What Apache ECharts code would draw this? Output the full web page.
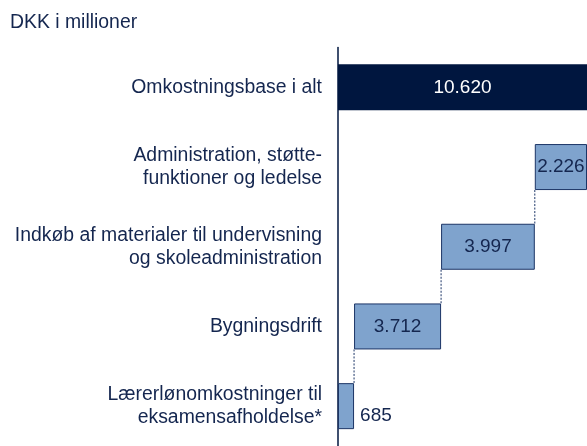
<!DOCTYPE html>
<html>
<head>
<meta charset="utf-8">
<script src="https://cdn.jsdelivr.net/npm/echarts@6/dist/echarts.min.js"></script>
<style>
  html, body { margin: 0; padding: 0; background: #fff; }
  #chart { width: 587px; height: 446px; }
</style>
</head>
<body>
<div id="chart"></div>
<script>
// categories top to bottom
const categories = [
  'Omkostningsbase i alt',
  'Administration, støtte-\nfunktioner og ledelse',
  'Indkøb af materialer til undervisning\nog skoleadministration',
  'Bygningsdrift',
  'Lærerlønomkostninger til\neksamensafholdelse*'
]
const totalValue = 10620
// steps, top to bottom (bottom one starts at 0)
const stepValues = [2226, 3997, 3712, 685]

const navy = '#00163f'
const textColor = '#14264f'

// base offsets for the waterfall, stacked from the bottom up
const bases = []
let running = 0
for (let i = stepValues.length - 1; i >= 0; i--) {
  bases[i] = running
  running += stepValues[i]
}
const baseData = [0].concat(bases)
const totalData = [totalValue, '-', '-', '-', '-']
const stepData = ['-'].concat(stepValues)

// dashed connectors: [x value, upper row, lower row]
const connectors = []
for (let i = 0; i < stepValues.length - 1; i++) {
  connectors.push([bases[i], i + 1, i + 2])
}

const fmt = v => v.toLocaleString('de-DE')
const BAR_W = 46

const chart = echarts.init(document.getElementById('chart'))
chart.setOption({
  animation: false,
  textStyle: { fontFamily: 'Liberation Sans, Arial, sans-serif' },
  graphic: [{
    type: 'text',
    left: 10,
    top: 13,
    style: { text: 'DKK i millioner', fontSize: 19.4, fill: textColor, fontFamily: 'Liberation Sans, Arial, sans-serif' }
  }],
  grid: { left: 338, width: 250, top: 47.5, height: 405 },
  xAxis: {
    type: 'value',
    min: 0,
    max: totalValue,
    show: false
  },
  yAxis: {
    type: 'category',
    inverse: true,
    data: categories,
    axisLine: { show: true, lineStyle: { color: navy, width: 1.5 } },
    axisTick: { show: false },
    axisLabel: {
      color: textColor,
      fontSize: 19.4,
      lineHeight: 23,
      margin: 16,
      align: 'right'
    }
  },
  series: [
    {
      type: 'bar',
      stack: 'w',
      data: baseData,
      barWidth: BAR_W,
      itemStyle: { color: 'transparent' },
      silent: true
    },
    {
      type: 'bar',
      stack: 'w',
      data: totalData,
      barWidth: BAR_W,
      clip: false,
      itemStyle: { color: navy },
      label: {
        show: true,
        position: 'inside',
        color: '#fff',
        fontSize: 19,
        formatter: p => fmt(p.value)
      }
    },
    {
      type: 'bar',
      stack: 'w',
      data: stepData,
      barWidth: BAR_W,
      clip: false,
      itemStyle: { color: '#7fa3cd', borderColor: '#1c3566', borderWidth: 1 },
      label: {
        show: true,
        position: 'inside',
        color: textColor,
        fontSize: 19,
        formatter: p => fmt(p.value)
      },
      labelLayout: p => (p.dataIndex === 4 ? { x: p.rect.x + p.rect.width + 6, align: 'left' } : {})
    },
    {
      type: 'custom',
      data: connectors,
      renderItem: (params, api) => {
        const x = api.value(0)
        const top = api.coord([x, api.value(1)])
        const bottom = api.coord([x, api.value(2)])
        return {
          type: 'line',
          shape: { x1: top[0], y1: top[1] + BAR_W / 2, x2: bottom[0], y2: bottom[1] - BAR_W / 2 },
          style: { stroke: '#1c3566', lineWidth: 1, lineDash: [2, 1.5] }
        }
      }
    }
  ]
})
</script>
</body>
</html>
